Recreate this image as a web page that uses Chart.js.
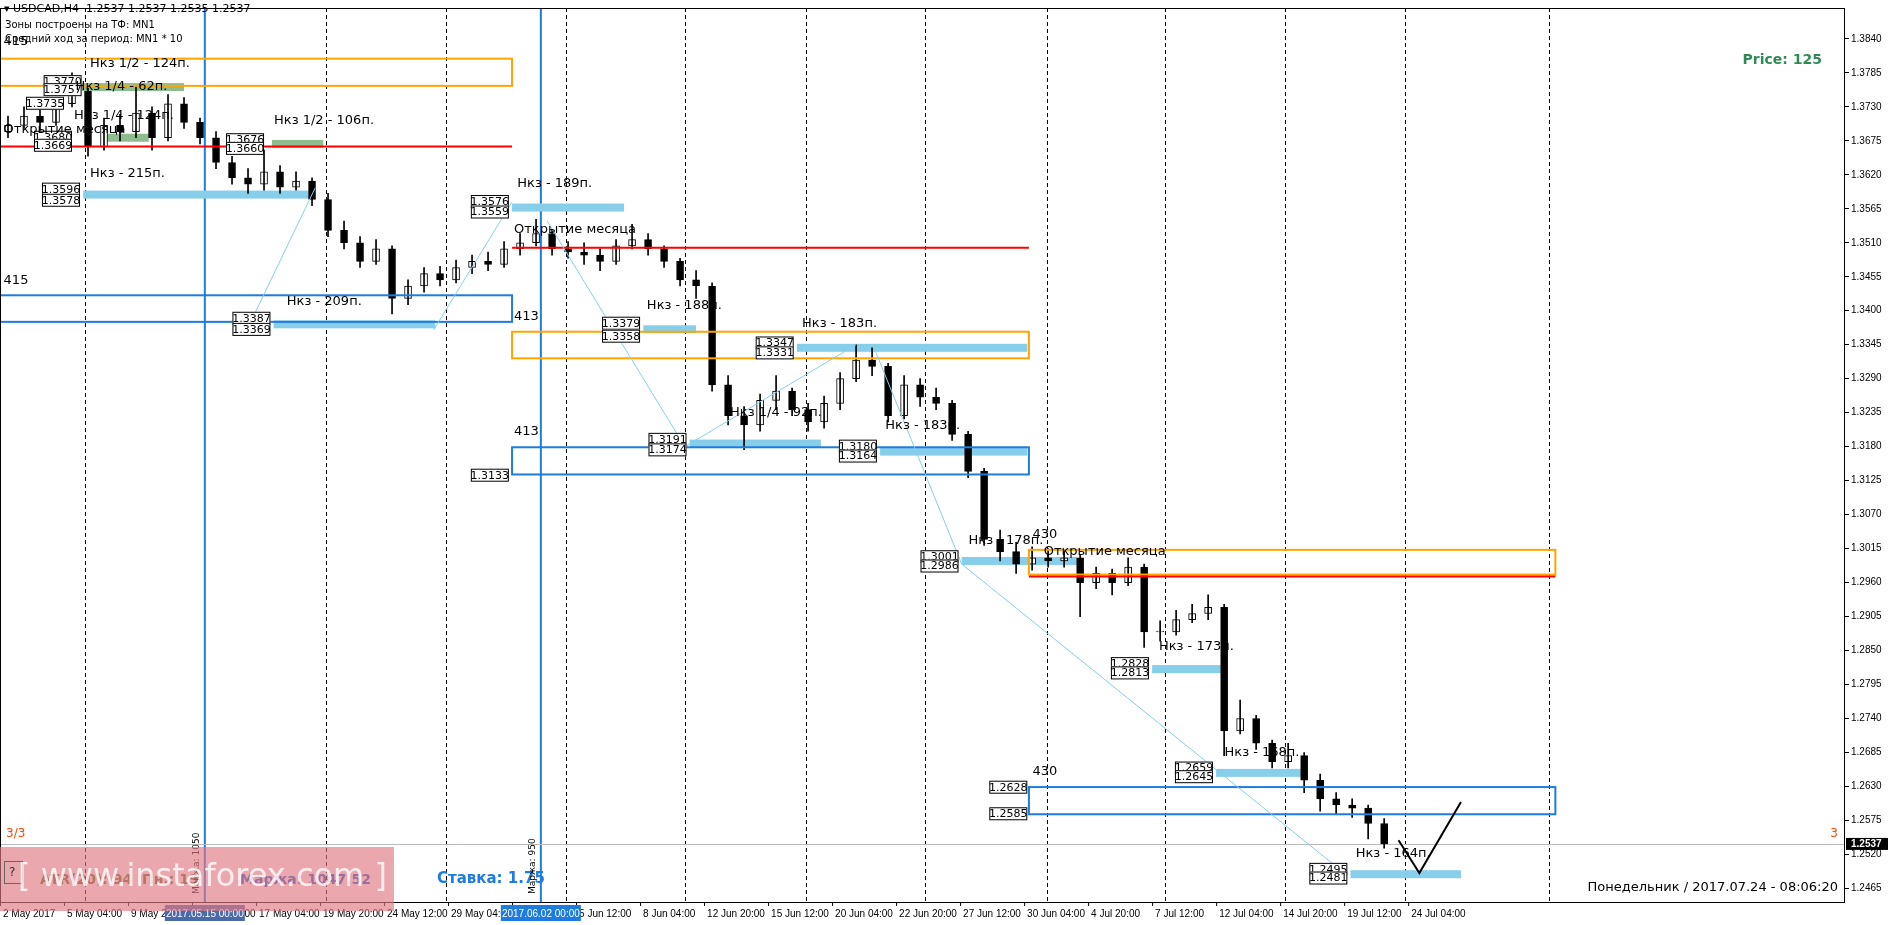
<!DOCTYPE html>
<html>
<head>
<meta charset="utf-8">
<script src="https://cdn.jsdelivr.net/npm/chart.js@4/dist/chart.umd.min.js"></script>
<style>
html,body{margin:0;padding:0;background:#fff;}
#wrap{width:1888px;height:925px;position:relative;}
</style>
</head>
<body>
<div id="wrap"><canvas id="chart" width="1888" height="925"></canvas></div>
<script>
// USDCAD H4 candles, one candle per 16h block (x in candle units)
const firstOpen = 1.3690;
const closes = [
1.3700,1.3715,1.3705,1.3735,1.3755,1.3665,1.3700,1.3690,1.3720,1.3680,
1.3735,1.3705,1.3680,1.3640,1.3615,1.3605,1.3625,1.3600,1.3610,1.3580,
1.3530,1.3510,1.3480,1.3500,1.3420,1.3440,1.3460,1.3450,1.3470,1.3480,
1.3475,1.3500,1.3510,1.3525,1.3500,1.3495,1.3490,1.3480,1.3505,1.3515,
1.3500,1.3480,1.3450,1.3440,1.3280,1.3230,1.3215,1.3255,1.3270,1.3240,
1.3220,1.3250,1.3290,1.3320,1.3310,1.3230,1.3280,1.3260,1.3250,1.3200,
1.3140,1.3030,1.3010,1.2990,1.3000,1.2995,1.3000,1.2960,1.2975,1.2960,
1.2985,1.2880,1.2880,1.2900,1.2910,1.2920,1.2720,1.2740,1.2700,1.2670,
1.2680,1.2640,1.2610,1.2600,1.2595,1.2570,1.2537];
const highs = [
1.3715,1.3730,1.3725,1.3745,1.3785,1.3760,1.3712,1.3718,1.3765,1.3730,
1.3750,1.3745,1.3712,1.3690,1.3650,1.3630,1.3660,1.3635,1.3625,1.3615,
1.3590,1.3545,1.3520,1.3515,1.3505,1.3450,1.3470,1.3472,1.3482,1.3490,
1.3495,1.3512,1.3525,1.3548,1.3530,1.3512,1.3510,1.3500,1.3515,1.3540,
1.3525,1.3505,1.3485,1.3465,1.3445,1.3295,1.3245,1.3265,1.3295,1.3275,
1.3250,1.3262,1.3300,1.3345,1.3340,1.3315,1.3295,1.3290,1.3275,1.3255,
1.3205,1.3145,1.3045,1.3025,1.3018,1.3015,1.3012,1.3005,1.2985,1.2982,
1.3000,1.2990,1.2898,1.2915,1.2925,1.2940,1.2925,1.2770,1.2745,1.2705,
1.2700,1.2685,1.2650,1.2620,1.2610,1.2600,1.2578];
const lows = [
1.3680,1.3695,1.3690,1.3700,1.3730,1.3650,1.3660,1.3675,1.3680,1.3660,
1.3675,1.3695,1.3670,1.3630,1.3605,1.3590,1.3595,1.3590,1.3595,1.3570,
1.3520,1.3500,1.3470,1.3475,1.3395,1.3410,1.3430,1.3440,1.3445,1.3460,
1.3465,1.3470,1.3490,1.3505,1.3490,1.3485,1.3475,1.3465,1.3475,1.3500,
1.3490,1.3470,1.3440,1.3420,1.3270,1.3215,1.3175,1.3205,1.3240,1.3230,
1.3205,1.3210,1.3240,1.3285,1.3295,1.3220,1.3225,1.3245,1.3240,1.3190,
1.3130,1.3020,1.2995,1.2975,1.2980,1.2985,1.2985,1.2905,1.2950,1.2940,
1.2955,1.2855,1.2865,1.2875,1.2895,1.2900,1.2680,1.2715,1.2690,1.2660,
1.2660,1.2620,1.2590,1.2585,1.2580,1.2545,1.2530];

// x-axis labels, one every 4 candle units
const tickLabels = ["2 May 2017","5 May 04:00","9 May 20:00","12 May 12:00","17 May 04:00","19 May 20:00",
"24 May 12:00","29 May 04:00","31 May 20:00","5 Jun 12:00","8 Jun 04:00","12 Jun 20:00","15 Jun 12:00",
"20 Jun 04:00","22 Jun 20:00","27 Jun 12:00","30 Jun 04:00","4 Jul 20:00","7 Jul 12:00","12 Jul 04:00",
"14 Jul 20:00","19 Jul 12:00","24 Jul 04:00"];
const priceTicks = [1.2465,1.2520,1.2575,1.2630,1.2685,1.2740,1.2795,1.2850,1.2905,1.2960,1.3015,1.3070,
1.3125,1.3180,1.3235,1.3290,1.3345,1.3400,1.3455,1.3510,1.3565,1.3620,1.3675,1.3730,1.3785,1.3840];
const lastPrice = 1.2537;

// separators (candle units)
const dashedX = [4.8,19.9,27.4,34.9,42.3,49.9,57.3,64.9,72.3,79.8,87.3,96.3];
const blueX = [12.3,33.3];

// zones: [x0, x1, priceTop, priceBottom, colour]
const zones = [
  [-0.5,31.5,1.3808,1.3764,"#ffa500"],
  [-0.5,31.5,1.3425,1.3382,"#1e7be0"],
  [31.5,63.8,1.3366,1.3323,"#ffa500"],
  [31.5,63.8,1.3179,1.3135,"#1e7be0"],
  [63.8,96.7,1.3013,1.2973,"#ffa500"],
  [63.8,96.7,1.2629,1.2585,"#1e7be0"]
];
// month open lines: [x0, x1, price]
const openLines = [[-0.5,31.5,1.3666],[31.5,63.8,1.3502],[63.8,96.7,1.2970]];
// Нкз bars: [x0, x1, price, colour]
const nkzBars = [
  [4.7,18.8,1.3588,"#87ceeb"],[16.6,26.7,1.3378,"#87ceeb"],[31.5,38.5,1.3567,"#87ceeb"],
  [39.7,43,1.3370,"#87ceeb"],[49.3,63.7,1.3340,"#87ceeb"],[42.6,50.8,1.3185,"#87ceeb"],
  [54.5,63.7,1.3172,"#87ceeb"],[59.6,66.8,1.2995,"#87ceeb"],[71.5,76.1,1.2820,"#87ceeb"],
  [75.5,80.8,1.2652,"#87ceeb"],[83.9,90.8,1.2488,"#87ceeb"],
  [4.3,11,1.3762,"#8fbc8f"],[16.5,19.7,1.3670,"#8fbc8f"],[5.8,8.8,1.3680,"#8fbc8f"]
];
// price boxes: [right edge x, price, text]
const priceBoxes = [
  [4.5,1.3596,"1.3596"],[4.5,1.3578,"1.3578"],[16.4,1.3387,"1.3387"],[16.4,1.3369,"1.3369"],
  [31.3,1.3576,"1.3576"],[31.3,1.3559,"1.3559"],[39.5,1.3379,"1.3379"],[39.5,1.3358,"1.3358"],
  [49.1,1.3347,"1.3347"],[49.1,1.3331,"1.3331"],[42.4,1.3191,"1.3191"],[42.4,1.3174,"1.3174"],
  [54.3,1.3180,"1.3180"],[54.3,1.3164,"1.3164"],[59.4,1.3001,"1.3001"],[59.4,1.2986,"1.2986"],
  [71.3,1.2828,"1.2828"],[71.3,1.2813,"1.2813"],[75.3,1.2659,"1.2659"],[75.3,1.2645,"1.2645"],
  [83.7,1.2495,"1.2495"],[83.7,1.2481,"1.2481"],[31.3,1.3133,"1.3133"],[63.7,1.2628,"1.2628"],
  [63.7,1.2585,"1.2585"],[16,1.3676,"1.3676"],[16,1.3662,"1.3660"],[4,1.3680,"1.3680"],
  [4,1.3667,"1.3669"],[4.6,1.3770,"1.3770"],[4.6,1.3757,"1.3757"],[3.5,1.3735,"1.3735"]
];
// texts: [x, price, text, colour, size]
const texts = [
  [5,1.3790,"Нкз 1/2 - 124п.","#000",13],[4.1,1.3752,"Нкз 1/4 - 62п.","#000",13],
  [16.5,1.3697,"Нкз 1/2 - 106п.","#000",13],[4,1.3706,"Нкз 1/4 - 124п.","#000",13],
  [5,1.3612,"Нкз - 215п.","#000",13],[17.3,1.3405,"Нкз - 209п.","#000",13],
  [31.7,1.3596,"Нкз - 189п.","#000",13],[39.8,1.3398,"Нкз - 188п.","#000",13],
  [49.5,1.3368,"Нкз - 183п.","#000",13],[54.7,1.3203,"Нкз - 183п.","#000",13],
  [45,1.3225,"Нкз 1/4 - 92п.","#000",13],
  [59.9,1.3018,"Нкз - 178п.","#000",13],[71.8,1.2846,"Нкз - 173п.","#000",13],
  [75.9,1.2674,"Нкз - 168п.","#000",13],[84.1,1.2510,"Нкз - 164п.","#000",13],
  [-0.4,1.3683,"Открытие месяца","#000",13],[31.5,1.3520,"Открытие месяца","#000",13],
  [64.6,1.2999,"Открытие месяца","#000",13],
  [-0.4,1.3825,"415","#000",13],[-0.4,1.3438,"415","#000",13],
  [31.5,1.3380,"413","#000",13],[31.5,1.3194,"413","#000",13],
  [63.9,1.3027,"430","#000",13],[63.9,1.2643,"430","#000",13]
];
// zigzag lines: list of [x, price] points
const zigzags = [
  [[15.3,1.3389],[19.2,1.3599]],
  [[26.6,1.3369],[31.5,1.3576]],
  [[33.7,1.3545],[42.3,1.3180]],
  [[42.3,1.3180],[53.0,1.3345]],
  [[54.2,1.3335],[59.6,1.2990]],
  [[59.6,1.2990],[83.5,1.2490]]
];
const projection = [[86.9,1.2543],[88.2,1.2490],[90.8,1.2605]];

const idx = closes.map((c, i) => i);
const opens = closes.map((c, i) => i === 0 ? firstOpen : closes[i - 1]);

function lp0(y) { return y.getPixelForValue(lastPrice); }

const overlay = {
  id: "overlay",
  beforeDatasetsDraw(chart) {
    const { ctx, scales: { x, y }, chartArea: a } = chart;
    ctx.save();
    ctx.beginPath(); ctx.rect(a.left, a.top, a.width, a.height); ctx.clip();
    ctx.setLineDash([4, 3]); ctx.strokeStyle = "#000"; ctx.lineWidth = 1;
    dashedX.forEach(v => { const px = Math.round(x.getPixelForValue(v)) + .5; ctx.beginPath(); ctx.moveTo(px, a.top); ctx.lineTo(px, a.bottom); ctx.stroke(); });
    ctx.setLineDash([]); ctx.strokeStyle = "#1e7be0"; ctx.lineWidth = 2;
    blueX.forEach(v => { const px = x.getPixelForValue(v); ctx.beginPath(); ctx.moveTo(px, a.top); ctx.lineTo(px, a.bottom); ctx.stroke(); });
    // current price line
    ctx.strokeStyle = "#bbb"; ctx.lineWidth = 1;
    const lp = Math.round(lp0(y)) + .5;
    ctx.beginPath(); ctx.moveTo(a.left, lp); ctx.lineTo(a.right, lp); ctx.stroke();
    nkzBars.forEach(b => {
      ctx.fillStyle = b[3];
      const x0 = x.getPixelForValue(b[0]), x1 = x.getPixelForValue(b[1]), py = y.getPixelForValue(b[2]);
      ctx.fillRect(x0, py - 4, x1 - x0, 8);
    });
    ctx.restore();
  },
  afterDatasetsDraw(chart) {
    const { ctx, scales: { x, y }, chartArea: a } = chart;
    ctx.save();
    ctx.beginPath(); ctx.rect(a.left, a.top, a.width, a.height); ctx.clip();
    zones.forEach(z => {
      ctx.strokeStyle = z[4]; ctx.lineWidth = 2;
      const x0 = x.getPixelForValue(z[0]), x1 = x.getPixelForValue(z[1]);
      const y0 = y.getPixelForValue(z[2]), y1 = y.getPixelForValue(z[3]);
      ctx.strokeRect(x0, y0, x1 - x0, y1 - y0);
    });
    ctx.strokeStyle = "#ff0000"; ctx.lineWidth = 2;
    openLines.forEach(l => {
      const py = y.getPixelForValue(l[2]);
      ctx.beginPath(); ctx.moveTo(x.getPixelForValue(l[0]), py); ctx.lineTo(x.getPixelForValue(l[1]), py); ctx.stroke();
    });
    ctx.strokeStyle = "#87ceeb"; ctx.lineWidth = 1;
    zigzags.forEach(z => {
      ctx.beginPath();
      z.forEach((p, i) => { const px = x.getPixelForValue(p[0]), py = y.getPixelForValue(p[1]); i ? ctx.lineTo(px, py) : ctx.moveTo(px, py); });
      ctx.stroke();
    });
    ctx.strokeStyle = "#000"; ctx.lineWidth = 2;
    ctx.beginPath();
    projection.forEach((p, i) => { const px = x.getPixelForValue(p[0]), py = y.getPixelForValue(p[1]); i ? ctx.lineTo(px, py) : ctx.moveTo(px, py); });
    ctx.stroke();
    ctx.font = "11px 'DejaVu Sans'"; ctx.textBaseline = "middle"; ctx.textAlign = "center";
    priceBoxes.forEach(b => {
      const px = x.getPixelForValue(b[0]), py = y.getPixelForValue(b[1]);
      ctx.fillStyle = "#fff"; ctx.fillRect(px - 38, py - 7, 38, 13);
      ctx.strokeStyle = "#000"; ctx.lineWidth = 1; ctx.strokeRect(px - 38 + .5, py - 7 + .5, 37, 12);
      ctx.fillStyle = "#000"; ctx.fillText(b[2], px - 19, py);
    });
    ctx.textAlign = "left"; ctx.textBaseline = "bottom";
    texts.forEach(t => {
      ctx.font = t[4] + "px 'DejaVu Sans'"; ctx.fillStyle = t[3];
      ctx.fillText(t[2], x.getPixelForValue(t[0]) + 2, y.getPixelForValue(t[1]));
    });
    ctx.restore();

    ctx.save();
    ctx.textBaseline = "top"; ctx.fillStyle = "#000";
    ctx.font = "11px 'DejaVu Sans'";
    ctx.fillText("▾ USDCAD,H4  1.2537 1.2537 1.2535 1.2537", 4, 4);
    ctx.font = "10px 'DejaVu Sans'";
    ctx.fillText("Зоны построены на ТФ: MN1", 5, 20);
    ctx.fillText("Средний ход за период: MN1 * 10", 5, 34);
    ctx.font = "bold 14px 'DejaVu Sans'"; ctx.fillStyle = "#2e8b57"; ctx.textAlign = "right";
    ctx.fillText("Price: 125", 1822, 53);
    ctx.font = "12px 'DejaVu Sans'"; ctx.fillStyle = "#ff4500";
    ctx.textAlign = "left"; ctx.fillText("3/3", 6, lp0(y) - 16);
    ctx.textAlign = "right"; ctx.fillText("3", 1838, lp0(y) - 16);
    ctx.fillStyle = "#000"; ctx.font = "13px 'DejaVu Sans'";
    ctx.fillText("Понедельник / 2017.07.24 - 08:06:20", 1838, 881);
    ctx.textAlign = "left"; ctx.font = "bold 14px 'DejaVu Sans'";
    ctx.fillStyle = "#6b6b2a"; ctx.fillText("ATR(20): 94  Пн.: 19", 40, 873);
    ctx.fillStyle = "#1e5cc8"; ctx.fillText("Маржа: 1047.52", 240, 873);
    ctx.fillStyle = "#1e7be0"; ctx.font = "bold 15px 'DejaVu Sans'"; ctx.fillText("Ставка: 1.75", 437, 872);
    ctx.restore();
  },
  afterDraw(chart) {
    const { ctx, scales: { x, y }, chartArea: a } = chart;
    ctx.save();
    ctx.strokeStyle = "#000"; ctx.lineWidth = 1;
    ctx.strokeRect(a.left + .5, a.top + .5, a.width - 1, a.height);
    // x labels
    ctx.font = "10px 'Liberation Sans'"; ctx.fillStyle = "#000"; ctx.textBaseline = "top"; ctx.textAlign = "left";
    tickLabels.forEach((t, k) => {
      const px = x.getPixelForValue(4 * k - 0.5);
      ctx.beginPath(); ctx.moveTo(px + .5, a.bottom); ctx.lineTo(px + .5, a.bottom + 4); ctx.stroke();
      ctx.fillText(t, px + 3, a.bottom + 7);
    });
    [[12.3, "2017.05.15 00:00", "#4a6aa8"], [33.3, "2017.06.02 00:00", "#1e7be0"]].forEach(h => {
      const px = x.getPixelForValue(h[0]);
      ctx.fillStyle = h[2]; ctx.fillRect(px - 40, a.bottom + 3, 80, 16);
      ctx.fillStyle = "#fff"; ctx.textAlign = "center"; ctx.fillText(h[1], px, a.bottom + 7);
    });
    // last price tag on axis
    const py = y.getPixelForValue(lastPrice);
    ctx.fillStyle = "#000"; ctx.fillRect(a.right + 1, py - 6, 42, 12);
    ctx.fillStyle = "#fff"; ctx.textAlign = "left"; ctx.textBaseline = "middle";
    ctx.font = "bold 10px 'Liberation Sans'"; ctx.fillText(lastPrice.toFixed(4), a.right + 6, py);
    // vertical margin notes
    ctx.fillStyle = "#000"; ctx.font = "9px 'DejaVu Sans'";
    [[12.3, "Маржа: 1050"], [33.3, "Маржа: 950"]].forEach(m => {
      ctx.save(); ctx.translate(x.getPixelForValue(m[0]) - 8, a.bottom - 8); ctx.rotate(-Math.PI / 2);
      ctx.fillText(m[1], 0, 0); ctx.restore();
    });
    // watermark
    ctx.fillStyle = "rgba(225,120,130,0.65)"; ctx.fillRect(0, 847, 394, 64);
    ctx.strokeStyle = "#666"; ctx.strokeRect(4.5, 861.5, 18, 22);
    ctx.fillStyle = "#333"; ctx.font = "12px 'DejaVu Sans'"; ctx.fillText("?", 9, 873);
    ctx.fillStyle = "rgba(255,255,255,0.8)"; ctx.font = "32px 'DejaVu Sans'";
    ctx.fillText("[ www.instaforex.com ]", 18, 878);
    ctx.restore();
  }
};

new Chart(document.getElementById("chart"), {
  type: "bar",
  data: {
    datasets: [{
      label: "wick",
      data: idx.map(i => ({ x: i, y: [lows[i], highs[i]] })),
      backgroundColor: "#000",
      barThickness: 1,
      grouped: false
    }, {
      label: "body",
      data: idx.map(i => ({ x: i, y: [opens[i], closes[i]] })),
      backgroundColor: idx.map(i => closes[i] >= opens[i] ? "#fff" : "#000"),
      borderColor: "#000",
      borderWidth: 1,
      borderSkipped: false,
      barThickness: 7,
      minBarLength: 1,
      grouped: false
    }]
  },
  plugins: [overlay],
  options: {
    responsive: false,
    animation: false,
    layout: { padding: 0 },
    plugins: { legend: { display: false }, tooltip: { enabled: false } },
    scales: {
      x: {
        type: "linear", min: -0.5, max: 114.8, offset: false, bounds: "data",
        grid: { display: false }, border: { display: false },
        ticks: { display: false },
        afterFit: s => { s.height = 23; }
      },
      y: {
        position: "right", min: 1.2443, max: 1.3890,
        grid: { drawOnChartArea: false, drawTicks: true, tickLength: 4, color: "#000" },
        border: { display: false },
        afterBuildTicks: s => { s.ticks = priceTicks.map(v => ({ value: v })); },
        ticks: {
          color: "#000", font: { family: "Liberation Sans", size: 10 }, padding: 2,
          callback: v => v.toFixed(4)
        },
        afterFit: s => { s.width = 43; }
      }
    }
  }
});
</script>
</body>
</html>
